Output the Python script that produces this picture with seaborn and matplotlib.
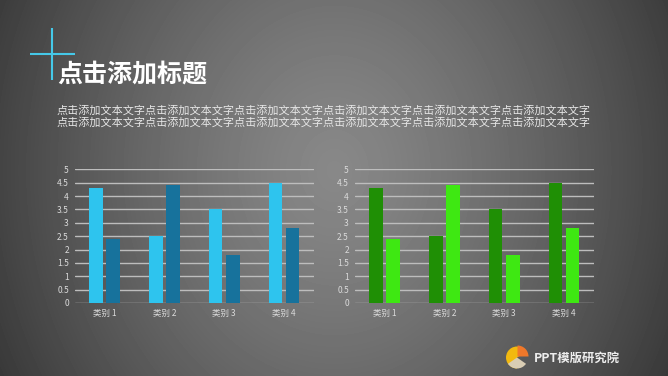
import numpy as np
import pandas as pd
import matplotlib
matplotlib.use("Agg")
import matplotlib.pyplot as plt
from matplotlib.patches import Wedge
import seaborn as sns

categories = ["类别 1", "类别 2", "类别 3", "类别 4"]
series_a = [4.3, 2.5, 3.5, 4.5]
series_b = [2.4, 4.4, 1.8, 2.8]
y_ticks = [0, 0.5, 1, 1.5, 2, 2.5, 3, 3.5, 4, 4.5, 5]
y_labels = ["0", "0.5", "1", "1.5", "2", "2.5", "3", "3.5", "4", "4.5", "5"]
title = "点击添加标题"
body = "点击添加文本文字" * 6
blue_colors = ["#2EC4EE", "#17729C"]
green_colors = ["#1F8F05", "#3EE812"]
logo_text = "PPT模版研究院"

sns.set_theme(style="white")
plt.rcParams["font.family"] = ["Noto Sans CJK SC", "DejaVu Sans"]

W, H = 668, 376
fig = plt.figure(figsize=(W / 100, H / 100), dpi=100)

# background + decorations in pixel coordinates
bg = fig.add_axes([0, 0, 1, 1], zorder=0)
yy, xx = np.mgrid[0:H, 0:W]
t = np.hypot((xx - 334) / 334, (yy - 170) / 400)
shade = (0x88 - 0x44 * t ** 1.3) / 255
bg.imshow(shade, cmap="gray", vmin=0, vmax=1, extent=(0, W, H, 0), aspect="auto")
bg.set_xlim(0, W)
bg.set_ylim(H, 0)
bg.axis("off")
bg.plot([52, 52], [28, 80], color="#45C8E8", lw=1.5, solid_capstyle="butt")
bg.plot([30, 75], [54, 54], color="#45C8E8", lw=1.5, solid_capstyle="butt")
bg.text(57.5, 75, title, color="white", fontsize=18, fontweight="bold", va="center", ha="left")
bg.text(56.5, 110.5, body, color="#E6E6E6", fontsize=8, va="center", ha="left")
bg.text(56.5, 122.5, body, color="#E6E6E6", fontsize=8, va="center", ha="left")
# logo (y axis inverted: angles mirror)
bg.add_patch(Wedge((517, 357.5), 11, 90, 330, color="#F2B90F", lw=0))
bg.add_patch(Wedge((517, 357.5), 11, 35, 145, color="#D9CDB4", lw=0))
bg.add_patch(Wedge((517.5, 356.5), 11, 270, 360, color="#F0782A", lw=0))
bg.text(534, 358, logo_text, color="#EDEDED", fontsize=8.9, fontweight="bold", va="center", ha="left")


def chart(rect, colors):
    ax = fig.add_axes(rect, zorder=1)
    ax.patch.set_alpha(0)
    df = pd.DataFrame({
        "cat": categories * 2,
        "val": series_a + series_b,
        "s": ["a"] * 4 + ["b"] * 4,
    })
    sns.barplot(data=df, x="cat", y="val", hue="s", palette=colors, width=0.57,
                gap=0.205, saturation=1, legend=False, ax=ax, zorder=3, linewidth=0)
    ax.set_xlim(-0.5, 3.5)
    ax.set_ylim(0, 5)
    ax.set_yticks(y_ticks)
    ax.set_yticklabels(y_labels)
    ax.set_xlabel("")
    ax.set_ylabel("")
    ax.grid(axis="y", color="#BDBDBD", lw=1, zorder=1)
    ax.set_axisbelow(True)
    for s in ax.spines.values():
        s.set_visible(False)
    ax.tick_params(axis="both", length=0, labelsize=6.1, labelcolor="#DADADA")
    ax.tick_params(axis="y", pad=4)
    ax.tick_params(axis="x", pad=4.5)
    return ax


def rect(x0, x1, top=169.3, bottom=303):
    return [x0 / W, 1 - bottom / H, (x1 - x0) / W, (bottom - top) / H]


chart(rect(74.5, 314), blue_colors)
chart(rect(354.5, 594), green_colors)

fig.savefig("out.png", dpi=100)
